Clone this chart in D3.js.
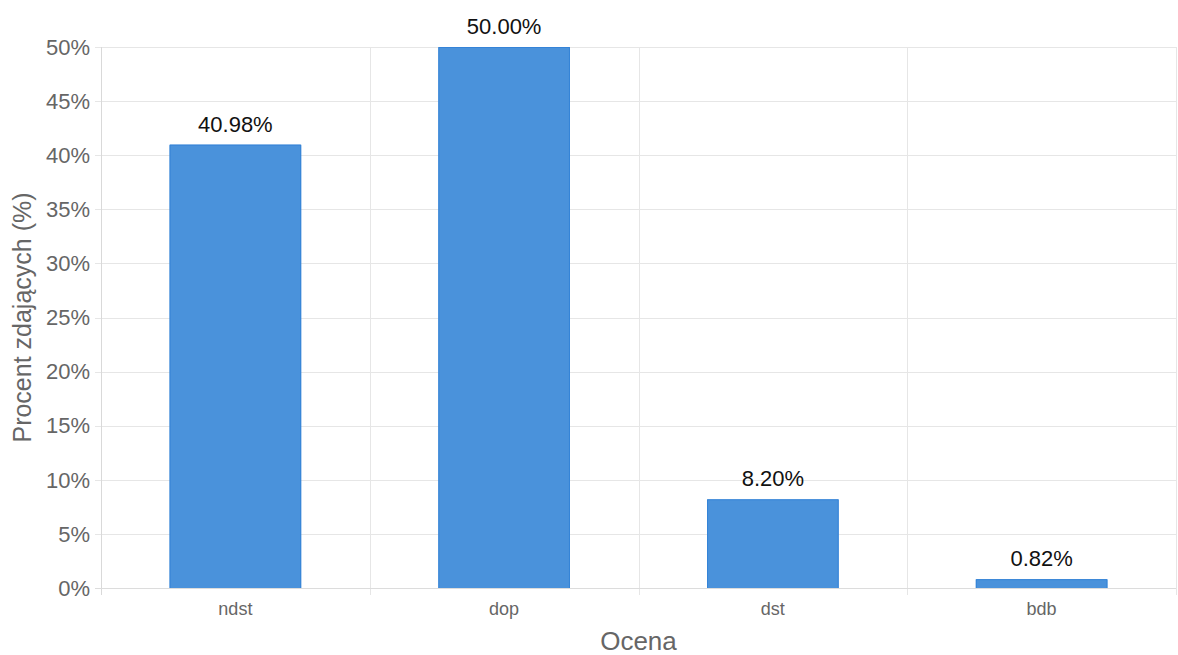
<!DOCTYPE html>
<html><head><meta charset="utf-8">
<script src="https://cdn.jsdelivr.net/npm/d3@7"></script>
<style>body{margin:0;background:#fff}svg{display:block;font-family:"Liberation Sans",Arial,sans-serif}</style>
</head><body><svg id="c" width="1178" height="655"></svg>
<script>
const categories = ["ndst", "dop", "dst", "bdb"];
const values = [40.98, 50.00, 8.20, 0.82];
const yTicks = [0, 5, 10, 15, 20, 25, 30, 35, 40, 45, 50];

const svg = d3.select("#c");
const m = {left: 101, right: 1176, top: 47, bottom: 588};
const x = d3.scaleBand().domain(categories).range([m.left, m.right]);
const y = d3.scaleLinear().domain([0, 50]).range([m.bottom, m.top]);
const grid = "#e6e6e6";

// horizontal grid
svg.append("g").selectAll("line").data(yTicks).join("line")
  .attr("x1", m.left - 6).attr("x2", m.right)
  .attr("y1", d => Math.round(y(d)) + 0.5).attr("y2", d => Math.round(y(d)) + 0.5)
  .attr("stroke", grid).attr("stroke-width", 1);
// vertical grid at category boundaries
const bounds = categories.map(c => x(c)).concat([m.right]);
svg.append("g").selectAll("line").data(bounds).join("line")
  .attr("x1", d => Math.round(d) + 0.5).attr("x2", d => Math.round(d) + 0.5)
  .attr("y1", m.top).attr("y2", m.bottom + 7)
  .attr("stroke", (d, i) => i === 0 ? "#d9d9d9" : grid).attr("stroke-width", 1);
// baseline
svg.append("line").attr("x1", m.left - 6).attr("x2", m.right)
  .attr("y1", m.bottom + 0.5).attr("y2", m.bottom + 0.5).attr("stroke", "#dcdcdc");

// y tick labels
svg.append("g").selectAll("text").data(yTicks).join("text")
  .attr("x", 90).attr("y", d => y(d)).attr("dy", "0.35em")
  .attr("text-anchor", "end").attr("font-size", 22).attr("fill", "#666")
  .text(d => d + "%");

// x tick labels
svg.append("g").selectAll("text").data(categories).join("text")
  .attr("x", d => x(d) + x.bandwidth() / 2).attr("y", 615)
  .attr("text-anchor", "middle").attr("font-size", 18).attr("fill", "#666")
  .text(d => d);

// bars
const bw = x.bandwidth() * 0.49;
const bars = svg.append("g").selectAll("g").data(values).join("g");
bars.append("rect")
  .attr("x", (d, i) => x(categories[i]) + (x.bandwidth() - bw) / 2)
  .attr("y", d => y(d)).attr("width", bw).attr("height", d => y(0) - y(d))
  .attr("fill", "#4a92db");
bars.append("path")
  .attr("d", (d, i) => {
    const x0 = x(categories[i]) + (x.bandwidth() - bw) / 2 + 0.5;
    const x1 = x0 + bw - 1;
    return `M${x0},${y(0)}V${y(d) + 0.5}H${x1}V${y(0)}`;
  })
  .attr("fill", "none").attr("stroke", "#2f7fd6").attr("stroke-width", 1).attr("stroke-opacity", 0.8);

// value labels
svg.append("g").selectAll("text").data(values).join("text")
  .attr("x", (d, i) => x(categories[i]) + x.bandwidth() / 2)
  .attr("y", d => y(d) - 13)
  .attr("text-anchor", "middle").attr("font-size", 22).attr("fill", "#111")
  .text(d => d.toFixed(2) + "%");

// axis titles
svg.append("text").attr("x", (m.left + m.right) / 2).attr("y", 650)
  .attr("text-anchor", "middle").attr("font-size", 26).attr("fill", "#666").text("Ocena");
svg.append("text").attr("transform", `translate(31,${(m.top + m.bottom) / 2}) rotate(-90)`)
  .attr("text-anchor", "middle").attr("font-size", 25).attr("fill", "#666").text("Procent zdających (%)");
</script></body></html>
